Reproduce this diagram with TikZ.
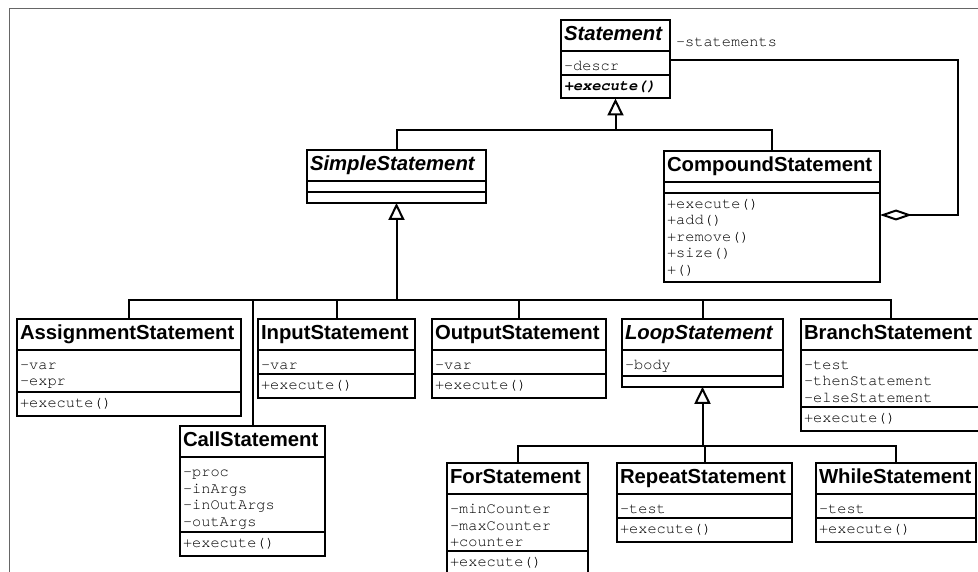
\documentclass[tikz,border=0pt]{standalone}
\usepackage{fontspec}
\setsansfont{Liberation Sans}
\setmonofont{TeX Gyre Cursor}
\usetikzlibrary{positioning, calc, arrows.meta, shapes.multipart}
\tikzset{>={Triangle[open, length=17pt, width=16pt]}}
\newcommand\cname[1]{\centering\color{black}\sffamily\bfseries\fontsize{20.3}{24}\selectfont\strut#1\strut}
\newcommand\aname[1]{\centering\color{black}\sffamily\bfseries\itshape\fontsize{20.3}{24}\selectfont\strut#1\strut}
\newcommand\attrs[1]{\rule{0pt}{16pt}#1\rule[-1pt]{0pt}{1pt}}
\newcommand\members[1]{\strut#1\strut}
\newcommand\nomembers{\rule{0pt}{4pt}}

\begin{document}
\begin{tikzpicture}
    [x=1pt, y=-1pt, line width=2pt,
     umlclass/.style={draw, rectangle split, rectangle split parts=3, anchor=north west,
       outer sep=0pt, inner xsep=3pt, inner ysep=2.5pt, align=left, text=black,
       font=\ttfamily\fontsize{15.3}{16.5}\selectfont},
     role/.style={inner sep=0pt, text=black, font=\ttfamily\fontsize{15.3}{16.5}\selectfont}]
    \useasboundingbox (0,0) rectangle (978,572);
    \draw[line width=1pt, black!60] (978,9) -- (9,9) -- (9,572);

    \node[umlclass, text width=103pt] (stmt) at (561,20)
      {\aname{Statement} \nodepart{two}\attrs{-descr}
       \nodepart{three}\members{\bfseries\itshape +execute()}};

    \node[umlclass, text width=173pt] (simple) at (307,150)
      {\aname{SimpleStatement} \nodepart{two}\nomembers \nodepart{three}\nomembers};
    \node[umlclass, text width=210pt] (compound) at (664,151)
      {\cname{CompoundStatement} \nodepart{two}\nomembers
       \nodepart{three}\members{+execute()\\+add()\\+remove()\\+size()\\+()}};

    \node[umlclass, text width=218pt] (assign) at (17,319)
      {\cname{AssignmentStatement} \nodepart{two}\attrs{-var\\-expr}
       \nodepart{three}\members{+execute()}};
    \node[umlclass, text width=151pt, right=17pt of assign.north east, anchor=north west] (input)
      {\cname{InputStatement} \nodepart{two}\attrs{-var} \nodepart{three}\members{+execute()}};
    \node[umlclass, text width=168pt, right=17pt of input.north east, anchor=north west] (output)
      {\cname{OutputStatement} \nodepart{two}\attrs{-var} \nodepart{three}\members{+execute()}};
    \node[umlclass, text width=155pt, right=16pt of output.north east, anchor=north west] (loop)
      {\aname{LoopStatement} \nodepart{two}\attrs{-body} \nodepart{three}\nomembers};
    \node[umlclass, text width=173pt, right=18pt of loop.north east, anchor=north west] (branch)
      {\cname{BranchStatement} \nodepart{two}\attrs{-test\\-thenStatement\\-elseStatement}
       \nodepart{three}\members{+execute()}};

    \node[umlclass, text width=139pt] (call) at (180,426)
      {\cname{CallStatement} \nodepart{two}\attrs{-proc\\-inArgs\\-inOutArgs\\-outArgs}
       \nodepart{three}\members{+execute()}};

    \node[umlclass, text width=135pt] (for) at (447,463)
      {\cname{ForStatement} \nodepart{two}\attrs{-minCounter\\-maxCounter\\+counter}
       \nodepart{three}\members{+execute()}};
    \node[umlclass, text width=169pt, right=29pt of for.north east, anchor=north west] (repeat)
      {\cname{RepeatStatement} \nodepart{two}\attrs{-test} \nodepart{three}\members{+execute()}};
    \node[umlclass, text width=154pt, right=24pt of repeat.north east, anchor=north west] (while)
      {\cname{WhileStatement} \nodepart{two}\attrs{-test} \nodepart{three}\members{+execute()}};

    \coordinate (top) at (stmt.south |- 0,130);
    \draw[->] (top) -- (stmt);
    \draw (top) -| (simple);
    \draw (top) -| (compound);

    \coordinate (mid) at (simple.south |- 0,300);
    \draw[->] (mid) -- (simple);
    \foreach \sub in {assign, call, input, output, loop, branch}
      \draw (mid) -| (\sub);

    \coordinate (low) at (loop.south |- 0,446);
    \draw[->] (low) -- (loop);
    \foreach \sub in {for, repeat, while}
      \draw (low) -| (\sub);

    \coordinate (bend) at (958,60);
    \draw[{Diamond[open, length=32pt, width=11pt]}-] (compound.east |- 0,215) -| (bend) -- (bend -| stmt.east);
    \node[role, anchor=base west] (rolelbl) at (675,46.5) {-statements};
  \end{tikzpicture}
\end{document}
